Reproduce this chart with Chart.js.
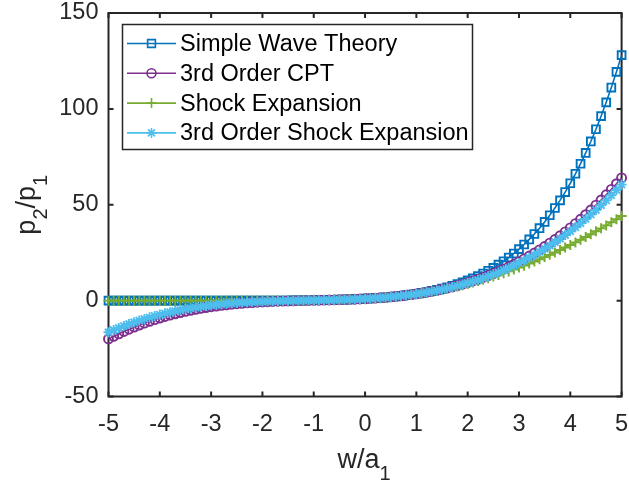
<!DOCTYPE html>
<html>
<head>
<meta charset="utf-8">
<title>p2/p1 versus w/a1</title>
<script src="https://cdn.jsdelivr.net/npm/chart.js@4.4.1/dist/chart.umd.min.js"></script>
<style>
  html, body { margin: 0; padding: 0; background: #ffffff; overflow: hidden; }
  #wrap { width: 629px; height: 482px; position: relative; }
</style>
</head>
<body>
<div id="wrap"><canvas id="chart" width="629" height="482"></canvas></div>
<script>
// Piston velocity ratio w/a1
const xValues = [
  -5.0, -4.9, -4.8, -4.7, -4.6, -4.5, -4.4, -4.3, -4.2, -4.1,
  -4.0, -3.9, -3.8, -3.7, -3.6, -3.5, -3.4, -3.3, -3.2, -3.1,
  -3.0, -2.9, -2.8, -2.7, -2.6, -2.5, -2.4, -2.3, -2.2, -2.1,
  -2.0, -1.9, -1.8, -1.7, -1.6, -1.5, -1.4, -1.3, -1.2, -1.1,
  -1.0, -0.9, -0.8, -0.7, -0.6, -0.5, -0.4, -0.3, -0.2, -0.1,
  0.0, 0.1, 0.2, 0.3, 0.4, 0.5, 0.6, 0.7, 0.8, 0.9,
  1.0, 1.1, 1.2, 1.3, 1.4, 1.5, 1.6, 1.7, 1.8, 1.9,
  2.0, 2.1, 2.2, 2.3, 2.4, 2.5, 2.6, 2.7, 2.8, 2.9,
  3.0, 3.1, 3.2, 3.3, 3.4, 3.5, 3.6, 3.7, 3.8, 3.9,
  4.0, 4.1, 4.2, 4.3, 4.4, 4.5, 4.6, 4.7, 4.8, 4.9,
  5.0
];

// Pressure ratio p2/p1 for each model
const simpleWave = [
  0, 0, 0, 0, 0, 0, 0, 0, 0, 0,
  0, 0, 0, 0, 0, 0, 0, 0, 0, 0,
  0, 0, 0, 0, 0.01, 0.01, 0.01, 0.01, 0.02, 0.02,
  0.03, 0.04, 0.04, 0.05, 0.07, 0.08, 0.10, 0.12, 0.15, 0.18,
  0.21, 0.25, 0.30, 0.35, 0.41, 0.48, 0.56, 0.65, 0.75, 0.87,
  1, 1.15, 1.32, 1.50, 1.71, 1.95, 2.21, 2.50, 2.83, 3.19,
  3.58, 4.02, 4.51, 5.04, 5.63, 6.27, 6.98, 7.76, 8.61, 9.53,
  10.54, 11.64, 12.84, 14.14, 15.55, 17.09, 18.75, 20.54, 22.48, 24.58,
  26.84, 29.28, 31.91, 34.73, 37.77, 41.03, 44.53, 48.29, 52.31, 56.62,
  61.22, 66.15, 71.40, 77.02, 83.01, 89.39, 96.19, 103.42, 111.12, 119.30,
  128
];

const cpt3 = [
  -20, -18.63, -17.33, -16.09, -14.92, -13.81, -12.75, -11.75, -10.81, -9.92,
  -9.08, -8.29, -7.55, -6.86, -6.22, -5.62, -5.05, -4.53, -4.05, -3.61,
  -3.2, -2.82, -2.48, -2.17, -1.88, -1.63, -1.39, -1.18, -1.00, -0.83,
  -0.68, -0.55, -0.43, -0.33, -0.24, -0.16, -0.08, -0.02, 0.05, 0.10,
  0.16, 0.22, 0.27, 0.34, 0.40, 0.48, 0.56, 0.65, 0.75, 0.87,
  1, 1.15, 1.32, 1.50, 1.71, 1.95, 2.20, 2.49, 2.80, 3.14,
  3.52, 3.93, 4.37, 4.85, 5.37, 5.94, 6.54, 7.18, 7.87, 8.61,
  9.40, 10.24, 11.13, 12.07, 13.07, 14.13, 15.24, 16.41, 17.65, 18.95,
  20.32, 21.75, 23.26, 24.83, 26.48, 28.20, 29.99, 31.86, 33.81, 35.85,
  37.96, 40.16, 42.44, 44.81, 47.27, 49.83, 52.47, 55.21, 58.04, 60.97,
  64
];

const shockExpansion = [
  0, 0, 0, 0, 0, 0, 0, 0, 0, 0,
  0, 0, 0, 0, 0, 0, 0, 0, 0, 0,
  0, 0, 0, 0, 0.01, 0.01, 0.01, 0.01, 0.02, 0.02,
  0.03, 0.04, 0.04, 0.05, 0.07, 0.08, 0.10, 0.12, 0.15, 0.18,
  0.21, 0.25, 0.30, 0.35, 0.41, 0.48, 0.56, 0.65, 0.75, 0.87,
  1, 1.15, 1.32, 1.50, 1.71, 1.94, 2.20, 2.47, 2.78, 3.11,
  3.47, 3.86, 4.28, 4.73, 5.21, 5.72, 6.26, 6.83, 7.43, 8.07,
  8.73, 9.43, 10.17, 10.93, 11.73, 12.56, 13.42, 14.32, 15.25, 16.21,
  17.21, 18.24, 19.30, 20.40, 21.52, 22.69, 23.88, 25.11, 26.37, 27.67,
  29.00, 30.36, 31.76, 33.19, 34.65, 36.15, 37.68, 39.24, 40.84, 42.47,
  44.14
];

const shockExpansion3 = [
  -16.5, -15.34, -14.24, -13.19, -12.19, -11.25, -10.36, -9.52, -8.73, -7.99,
  -7.29, -6.63, -6.02, -5.45, -4.91, -4.41, -3.95, -3.53, -3.14, -2.77,
  -2.44, -2.14, -1.87, -1.62, -1.39, -1.19, -1.01, -0.84, -0.70, -0.57,
  -0.46, -0.36, -0.27, -0.19, -0.12, -0.06, -0.01, 0.05, 0.09, 0.14,
  0.19, 0.24, 0.29, 0.35, 0.41, 0.48, 0.56, 0.65, 0.75, 0.87,
  1, 1.15, 1.32, 1.50, 1.71, 1.94, 2.20, 2.48, 2.79, 3.12,
  3.49, 3.89, 4.33, 4.79, 5.30, 5.84, 6.42, 7.05, 7.71, 8.42,
  9.18, 9.98, 10.83, 11.73, 12.68, 13.69, 14.75, 15.86, 17.04, 18.27,
  19.56, 20.92, 22.34, 23.82, 25.38, 26.99, 28.68, 30.44, 32.28, 34.18,
  36.17, 38.23, 40.37, 42.59, 44.89, 47.27, 49.74, 52.30, 54.94, 57.68,
  60.5
];

const seriesNames = ['Simple Wave Theory', '3rd Order CPT', 'Shock Expansion', '3rd Order Shock Expansion'];
const xTicks = [-5, -4, -3, -2, -1, 0, 1, 2, 3, 4, 5];
const yTicks = [-50, 0, 50, 100, 150];

const FONT = "'Liberation Sans', Arial, Helvetica, sans-serif";
const AXIS_COLOR = '#262626';

const styles = [
  { color: '#0072BD', pointStyle: 'rect',   radius: 5.5 },
  { color: '#7E2F8E', pointStyle: 'circle', radius: 4.5 },
  { color: '#77AC30', pointStyle: 'cross',  radius: 5 },
  { color: '#4DBEEE', pointStyle: 'star',   radius: 5 }
];

const seriesValues = [simpleWave, cpt3, shockExpansion, shockExpansion3];

const datasets = seriesValues.map((vals, i) => ({
  label: seriesNames[i],
  data: xValues.map((x, j) => ({ x: x, y: vals[j] })),
  borderColor: styles[i].color,
  backgroundColor: styles[i].color,
  borderWidth: 1.6,
  pointStyle: styles[i].pointStyle,
  pointRadius: styles[i].radius,
  pointBorderColor: styles[i].color,
  pointBackgroundColor: 'rgba(0,0,0,0)',
  pointBorderWidth: 1.9,
  tension: 0,
  fill: false,
  clip: false,
  order: seriesValues.length - i
}));

// Box around the plot area with inward tick marks on all four sides
const axesBox = {
  id: 'axesBox',
  beforeDatasetsDraw(chart) {
    const { ctx, chartArea: a, scales } = chart;
    const len = 5;
    ctx.save();
    ctx.strokeStyle = AXIS_COLOR;
    ctx.lineWidth = 2;
    ctx.beginPath();
    xTicks.forEach(v => {
      const px = scales.x.getPixelForValue(v);
      ctx.moveTo(px, a.bottom); ctx.lineTo(px, a.bottom - len);
      ctx.moveTo(px, a.top); ctx.lineTo(px, a.top + len);
    });
    yTicks.forEach(v => {
      const py = scales.y.getPixelForValue(v);
      ctx.moveTo(a.left, py); ctx.lineTo(a.left + len, py);
      ctx.moveTo(a.right, py); ctx.lineTo(a.right - len, py);
    });
    ctx.stroke();
    ctx.strokeRect(a.left, a.top, a.right - a.left, a.bottom - a.top);
    ctx.restore();
  }
};

// Boxed legend in the upper-left corner of the plot
const boxedLegend = {
  id: 'boxedLegend',
  afterDatasetsDraw(chart) {
    const { ctx } = chart;
    const bx = 122.5, by = 24.5, bw = 350, bh = 125;
    ctx.save();
    ctx.fillStyle = '#ffffff';
    ctx.fillRect(bx, by, bw, bh);
    ctx.strokeStyle = AXIS_COLOR;
    ctx.lineWidth = 1.5;
    ctx.strokeRect(bx, by, bw, bh);
    chart.data.datasets.forEach((ds, i) => {
      const y = 43.5 + i * 29.8;
      ctx.strokeStyle = ds.borderColor;
      ctx.lineWidth = 1.6;
      ctx.beginPath();
      ctx.moveTo(127, y);
      ctx.lineTo(176, y);
      ctx.stroke();
      ctx.fillStyle = 'rgba(0,0,0,0)';
      Chart.helpers.drawPoint(ctx, {
        pointStyle: ds.pointStyle,
        radius: ds.pointRadius,
        rotation: 0,
        borderWidth: ds.pointBorderWidth
      }, 151.5, y);
      ctx.fillStyle = '#000000';
      ctx.font = '23.5px ' + FONT;
      ctx.textAlign = 'left';
      ctx.textBaseline = 'middle';
      ctx.fillText(ds.label, 180, y + 1);
    });
    ctx.restore();
  }
};

// Axis titles with subscripts
function drawSubscripted(ctx, parts, mainSize, subSize, drop) {
  let total = 0;
  parts.forEach(p => {
    ctx.font = (p.sub ? subSize : mainSize) + 'px ' + FONT;
    total += ctx.measureText(p.t).width;
  });
  let x = -total / 2;
  parts.forEach(p => {
    ctx.font = (p.sub ? subSize : mainSize) + 'px ' + FONT;
    ctx.fillText(p.t, x, p.sub ? drop : 0);
    x += ctx.measureText(p.t).width;
  });
}

const axisTitles = {
  id: 'axisTitles',
  afterDraw(chart) {
    const { ctx, chartArea: a } = chart;
    ctx.save();
    ctx.fillStyle = AXIS_COLOR;
    ctx.textAlign = 'left';
    ctx.textBaseline = 'alphabetic';
    ctx.save();
    ctx.translate((a.left + a.right) / 2 - 1, 468);
    drawSubscripted(ctx, [{ t: 'w/a' }, { t: '1', sub: true }], 27, 20, 12);
    ctx.restore();
    ctx.save();
    ctx.translate(35, (a.top + a.bottom) / 2);
    ctx.rotate(-Math.PI / 2);
    drawSubscripted(ctx, [{ t: 'p' }, { t: '2', sub: true }, { t: '/p' }, { t: '1', sub: true }], 27, 20, 12);
    ctx.restore();
    ctx.restore();
  }
};

function zeroPadding(s) {
  s.paddingLeft = 0;
  s.paddingRight = 0;
  s.paddingTop = 0;
  s.paddingBottom = 0;
}

new Chart(document.getElementById('chart'), {
  type: 'line',
  data: { datasets: datasets },
  options: {
    responsive: false,
    animation: false,
    events: [],
    layout: { padding: { top: 13, right: 6.5, bottom: 0, left: 0 } },
    plugins: { legend: { display: false }, tooltip: { enabled: false } },
    scales: {
      x: {
        type: 'linear',
        min: -5,
        max: 5,
        afterBuildTicks: s => { s.ticks = xTicks.map(v => ({ value: v })); },
        afterFit: s => { s.height = 85.5; zeroPadding(s); },
        grid: { display: false, drawTicks: false },
        border: { display: false },
        ticks: {
          color: AXIS_COLOR,
          font: { family: FONT, size: 23.5, lineHeight: 1 },
          padding: 16,
          maxRotation: 0,
          autoSkip: false
        }
      },
      y: {
        type: 'linear',
        min: -50,
        max: 150,
        afterBuildTicks: s => { s.ticks = yTicks.map(v => ({ value: v })); },
        afterFit: s => { s.width = 108.5; zeroPadding(s); },
        grid: { display: false, drawTicks: false },
        border: { display: false },
        ticks: {
          color: AXIS_COLOR,
          font: { family: FONT, size: 23.5, lineHeight: 1 },
          padding: 10,
          autoSkip: false
        }
      }
    }
  },
  plugins: [axesBox, boxedLegend, axisTitles]
});
</script>
</body>
</html>
